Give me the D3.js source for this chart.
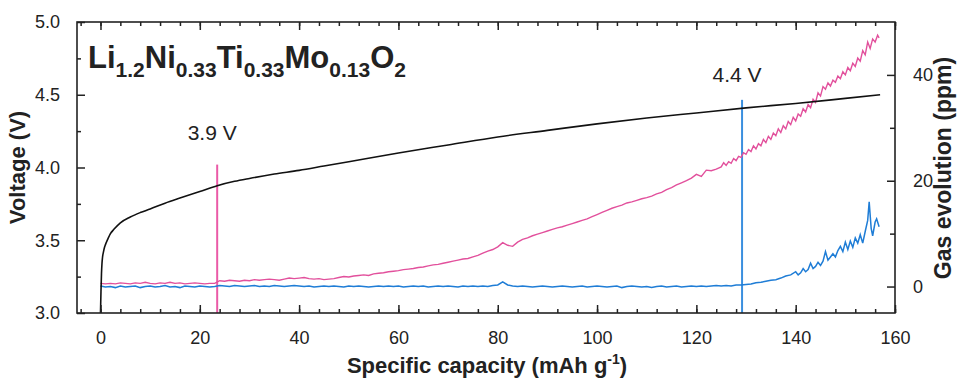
<!DOCTYPE html>
<html>
<head>
<meta charset="utf-8">
<script src="https://cdn.jsdelivr.net/npm/d3@7"></script>
<style>
  body { margin: 0; background: #fff; }
  text { font-family: "Liberation Sans", Arial, sans-serif; fill: #222; }
</style>
</head>
<body>
<div id="chart"></div>
<script>
// Voltage profile (left axis)
var voltCap = [0, 0.1, 0.2, 0.3, 0.4, 0.6, 0.8, 1, 1.5, 2, 2.7, 4, 6, 8, 10, 13, 16, 20, 23.5, 27, 30, 35, 40, 45, 50,
    60, 70, 80, 90, 100, 110, 120, 130, 140, 150, 157];
var voltV = [3.00, 3.15, 3.27, 3.34, 3.38, 3.42, 3.45, 3.47, 3.51, 3.545, 3.575, 3.62, 3.66, 3.69, 3.715, 3.755, 3.79,
    3.835, 3.875, 3.905, 3.925, 3.955, 3.98, 4.01, 4.04, 4.10, 4.155, 4.21, 4.255, 4.30, 4.34, 4.375, 4.41, 4.44,
    4.475, 4.50];

// Gas evolution (right axis): pink, every 1 mAh/g from 0 to 124, then a finer tail
var pinkPpm = [
    0.6, 0.5, 0.6, 0.5, 0.7, 0.6, 0.5, 0.7, 0.6, 0.8, 0.6, 0.5, 0.7, 0.6, 0.8, 0.6, 0.7, 0.5, 0.6, 0.7,
    0.6, 0.5, 0.6, 0.6, 1.1, 1.0, 1.2, 1.1, 1.0, 1.2, 1.1, 1.3, 1.2, 1.3, 1.4, 1.3, 1.2, 1.4, 1.6, 1.5,
    1.6, 1.7, 1.5, 1.4, 1.5, 1.3, 1.4, 1.5, 1.7, 1.9, 1.8, 2.0, 2.1, 2.2, 2.1, 2.4, 2.5, 2.6, 2.8, 2.9,
    3.0, 3.2, 3.3, 3.4, 3.6, 3.7, 3.9, 4.1, 4.2, 4.4, 4.6, 4.8, 5.0, 5.2, 5.3, 5.6, 5.9, 6.3, 6.7, 7.0,
    7.5, 8.3, 7.8, 7.6, 8.4, 8.9, 9.2, 9.6, 9.9, 10.2, 10.5, 10.8, 11.1, 11.3, 11.6, 11.9, 12.2, 12.5, 12.8, 13.2,
    13.6, 14.0, 14.4, 14.8, 15.1, 15.4, 15.8, 16.0, 16.3, 16.6, 16.8, 17.1, 17.5, 17.8, 18.3, 18.7, 19.2, 19.6, 20.0, 20.5,
    21.2, 20.8, 22.0, 21.9, 22.2];
var pinkTailCap = [125, 125.5, 126, 126.5, 127, 127.5, 128, 128.5, 129, 129.5, 130, 130.5, 131, 131.5, 132, 132.5,
    133, 133.5, 134, 134.5, 135, 135.5, 136, 136.5, 137, 137.5, 138, 138.5, 139, 139.5, 140, 140.5, 141, 141.5,
    142, 142.5, 143, 143.5, 144, 144.5, 145, 145.5, 146, 146.5, 147, 147.5, 148, 148.5, 149, 149.5, 150, 150.5,
    151, 151.5, 152, 152.5, 153, 153.5, 154, 154.5, 155, 155.5, 156, 156.5, 156.8];
var pinkTailPpm = [22.6, 23.4, 22.9, 23.6, 23.3, 24.2, 23.8, 24.6, 24.4, 25.3, 25.0, 25.9, 25.5, 26.6, 26.0, 27.0,
    26.6, 27.8, 27.2, 28.4, 27.8, 29.0, 28.5, 29.8, 29.1, 30.4, 29.8, 31.2, 30.6, 32.0, 31.3, 32.6, 32.2, 33.6,
    33.0, 34.4, 33.8, 35.4, 34.8, 36.6, 36.0, 37.8, 37.3, 38.5, 37.9, 39.0, 38.6, 39.8, 39.3, 40.6, 40.0, 41.4,
    40.8, 42.2, 41.6, 43.2, 42.6, 44.6, 43.8, 46.2, 45.0, 46.8, 46.2, 47.5, 47.0];

// blue, every 1 mAh/g from 0 to 139, then a finer tail
var bluePpm = [
    0.1, -0.1, 0.0, -0.2, 0.1, -0.1, 0.0, 0.1, -0.2, 0.0, 0.1, -0.1, 0.0, 0.2, -0.1, 0.0, -0.2, 0.1, 0.0, -0.1,
    0.1, 0.0, -0.1, 0.0, 0.2, 0.1, 0.0, 0.2, 0.1, 0.0, 0.1, 0.2, 0.0, 0.1, 0.0, 0.2, 0.1, 0.0, 0.1, 0.2,
    0.1, 0.0, 0.1, -0.1, 0.0, 0.1, 0.0, 0.1, 0.0, -0.1, 0.1, 0.0, 0.1, 0.0, -0.1, 0.0, 0.1, 0.0, 0.1, 0.0,
    0.1, -0.1, 0.0, 0.1, 0.0, 0.1, -0.1, 0.0, 0.1, 0.0, 0.1, 0.0, -0.1, 0.1, 0.0, 0.1, 0.0, 0.1, 0.0, 0.2,
    0.3, 0.9, 0.3, 0.1, 0.0, 0.1, 0.0, -0.1, 0.0, 0.1, 0.0, -0.1, 0.0, 0.1, 0.0, -0.1, 0.0, 0.1, -0.1, 0.0,
    0.1, 0.0, -0.1, 0.0, 0.1, -0.2, 0.0, 0.1, 0.0, -0.1, 0.0, -0.2, 0.0, 0.1, -0.1, 0.0, 0.1, -0.1, 0.0, 0.1,
    0.0, 0.1, 0.0, 0.1, 0.2, 0.1, 0.2, 0.1, 0.3, 0.3, 0.4, 0.5, 0.7, 0.8, 1.0, 1.2, 1.3, 1.6, 2.0, 2.2];
var blueTailCap = [140, 140.5, 141, 141.5, 142, 142.5, 143, 143.5, 144, 144.5, 145, 145.5, 146, 146.5, 147, 147.5,
    148, 148.5, 149, 149.5, 150, 150.5, 151, 151.5, 152, 152.5, 153, 153.5, 154, 154.5, 154.8, 155.2, 155.5,
    156, 156.3, 156.8];
var blueTailPpm = [2.8, 2.2, 2.6, 3.4, 2.8, 3.2, 4.4, 3.4, 3.8, 4.6, 4.0, 4.8, 6.6, 5.0, 5.6, 6.2,
    5.6, 6.8, 7.6, 6.6, 8.4, 7.0, 8.6, 7.4, 9.2, 8.2, 9.8, 8.2, 10.4, 12.5, 16.0, 11.0, 9.6,
    12.2, 12.8, 11.3];

// Charge markers
var markerCap = [23.5, 129.2];
var markerTopV = [4.02, 4.465];
var markerLabelV = [4.19, 4.59];
var markerLabel = ["3.9 V", "4.4 V"];
var markerColor = ["#ea5aa7", "#3a8fdf"];

var margin = {top: 22, right: 63, bottom: 69, left: 77},
    width = 958 - margin.left - margin.right,
    height = 382 - margin.top - margin.bottom;

var x = d3.scaleLinear().domain([-4.73, 160]).range([0, width]);
var yV = d3.scaleLinear().domain([3.0, 5.0]).range([height, 0]);
var yG = d3.scaleLinear().domain([-5, 50]).range([height, 0]);

var svg = d3.select("#chart").append("svg")
    .attr("width", 958)
    .attr("height", 382)
    .append("g")
    .attr("transform", "translate(" + margin.left + "," + margin.top + ")");

var plot = svg.append("g");

// Vertical marker lines
markerCap.forEach(function(c, i) {
    plot.append("line")
        .attr("x1", x(c)).attr("x2", x(c))
        .attr("y1", yV(markerTopV[i])).attr("y2", height)
        .attr("stroke", markerColor[i])
        .attr("stroke-width", 2);
    plot.append("text")
        .attr("x", x(c) - 5)
        .attr("y", yV(markerLabelV[i]))
        .attr("text-anchor", "middle")
        .style("font-size", "21px")
        .text(markerLabel[i]);
});

var lineV = d3.line()
    .x(function(d) { return x(d[0]); })
    .y(function(d) { return yV(d[1]); })
    .curve(d3.curveMonotoneX);
var lineG = d3.line()
    .x(function(d) { return x(d[0]); })
    .y(function(d) { return yG(d[1]); });

var pinkData = pinkPpm.map(function(v, i) { return [i, v]; })
    .concat(pinkTailCap.map(function(c, i) { return [c, pinkTailPpm[i]]; }));
var blueData = bluePpm.map(function(v, i) { return [i, v]; })
    .concat(blueTailCap.map(function(c, i) { return [c, blueTailPpm[i]]; }));

plot.append("path")
    .datum(pinkData)
    .attr("d", lineG)
    .attr("fill", "none")
    .attr("stroke", "#e2509c")
    .attr("stroke-width", 1.4);

plot.append("path")
    .datum(blueData)
    .attr("d", lineG)
    .attr("fill", "none")
    .attr("stroke", "#1f7dd6")
    .attr("stroke-width", 1.5);

plot.append("path")
    .datum(voltCap.map(function(c, i) { return [c, voltV[i]]; }))
    .attr("d", lineV)
    .attr("fill", "none")
    .attr("stroke", "#111")
    .attr("stroke-width", 1.6);

// Axes - all ticks point inward
function styleAxis(g) {
    g.select(".domain").remove();
    g.selectAll("line").attr("stroke", "#222").attr("stroke-width", 1.5);
    g.selectAll("text").style("font-size", "18px").attr("fill", "#222");
}

var xMinor = d3.range(-4, 161, 4);
var xMajor = d3.range(0, 161, 20);

svg.append("g").attr("transform", "translate(0," + height + ")")
    .call(d3.axisBottom(x).tickValues(xMinor).tickSize(-4).tickFormat(""))
    .call(styleAxis);
svg.append("g").attr("transform", "translate(0," + height + ")")
    .call(d3.axisBottom(x).tickValues(xMajor).tickSize(-8).tickPadding(18).tickFormat(d3.format("d")))
    .call(styleAxis);
svg.append("g")
    .call(d3.axisTop(x).tickValues(xMinor).tickSize(-4).tickFormat(""))
    .call(styleAxis);
svg.append("g")
    .call(d3.axisTop(x).tickValues(xMajor).tickSize(-8).tickFormat(""))
    .call(styleAxis);

svg.append("g")
    .call(d3.axisLeft(yV).tickValues([3.25, 3.75, 4.25, 4.75]).tickSize(-4).tickFormat(""))
    .call(styleAxis);
svg.append("g")
    .call(d3.axisLeft(yV).tickValues([3.0, 3.5, 4.0, 4.5, 5.0]).tickSize(-8).tickPadding(17).tickFormat(d3.format(".1f")))
    .call(styleAxis);

svg.append("g").attr("transform", "translate(" + width + ",0)")
    .call(d3.axisRight(yG).tickValues([10, 30]).tickSize(-5).tickFormat(""))
    .call(styleAxis);
svg.append("g").attr("transform", "translate(" + width + ",0)")
    .call(d3.axisRight(yG).tickValues([0, 20, 40]).tickSize(-8).tickPadding(18).tickFormat(d3.format("d")))
    .call(styleAxis);

// Frame
svg.append("rect")
    .attr("width", width).attr("height", height)
    .attr("fill", "none")
    .attr("stroke", "#222")
    .attr("stroke-width", 1.6);

// Title formula
var title = svg.append("text")
    .attr("x", 11)
    .attr("y", 46)
    .style("font-size", "31px")
    .style("font-weight", "bold");
[["Li", false], ["1.2", true], ["Ni", false], ["0.33", true], ["Ti", false], ["0.33", true],
 ["Mo", false], ["0.13", true], ["O", false], ["2", true]].forEach(function(p, i, arr) {
    var prevSub = i > 0 && arr[i - 1][1];
    title.append("tspan")
        .attr("dy", p[1] ? 9 : (prevSub ? -9 : 0))
        .style("font-size", p[1] ? "21px" : "31px")
        .text(p[0]);
});

// Axis labels
svg.append("text")
    .attr("transform", "translate(" + (width / 2 + 1) + "," + (height + 60) + ")")
    .attr("text-anchor", "middle")
    .style("font-size", "22px")
    .style("font-weight", "bold")
    .text("Specific capacity (mAh g")
    .append("tspan").attr("dy", -9).style("font-size", "14px").text("-1")
    .select(function() { return this.parentNode; })
    .append("tspan").attr("dy", 9).text(")");

svg.append("text")
    .attr("transform", "translate(" + (-52) + "," + (yV(4.0)) + ") rotate(-90)")
    .attr("text-anchor", "middle")
    .style("font-size", "22px")
    .style("font-weight", "bold")
    .text("Voltage (V)");

svg.append("text")
    .attr("transform", "translate(" + (width + 56) + "," + 146 + ") rotate(-90)")
    .attr("text-anchor", "middle")
    .style("font-size", "23px")
    .style("font-weight", "bold")
    .text("Gas evolution (ppm)");
</script>
</body>
</html>
